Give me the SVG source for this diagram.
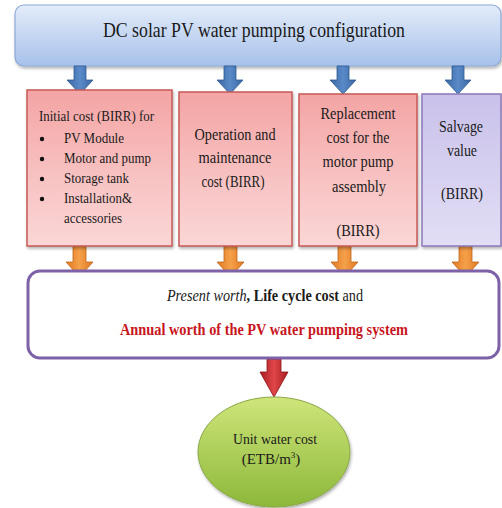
<svg xmlns="http://www.w3.org/2000/svg" width="502" height="508" viewBox="0 0 502 508" font-family="'Liberation Serif', 'Times New Roman', serif">
<defs>
<linearGradient id="gBlue" x1="0" y1="0" x2="0" y2="1"><stop offset="0" stop-color="#e3ecfa"/><stop offset="1" stop-color="#a7c1ea"/></linearGradient>
<linearGradient id="gPink" x1="0" y1="0" x2="0" y2="1"><stop offset="0" stop-color="#f4a4a4"/><stop offset="0.6" stop-color="#f8c4c4"/><stop offset="1" stop-color="#fbd6d6"/></linearGradient>
<linearGradient id="gPurple" x1="0" y1="0" x2="0" y2="1"><stop offset="0" stop-color="#c9c1ea"/><stop offset="1" stop-color="#e2def5"/></linearGradient>
<linearGradient id="gGreen" x1="0" y1="0" x2="0" y2="1"><stop offset="0" stop-color="#cfe57a"/><stop offset="1" stop-color="#8cb83a"/></linearGradient>
<linearGradient id="gOrange" x1="0" y1="0" x2="1" y2="0"><stop offset="0" stop-color="#e07a22"/><stop offset="0.5" stop-color="#f5a04a"/><stop offset="1" stop-color="#e07a22"/></linearGradient>
<linearGradient id="gRed" x1="0" y1="0" x2="1" y2="0"><stop offset="0" stop-color="#a81c20"/><stop offset="0.5" stop-color="#e0464a"/><stop offset="1" stop-color="#a81c20"/></linearGradient>
<linearGradient id="gBlueArr" x1="0" y1="0" x2="1" y2="0"><stop offset="0" stop-color="#3a67a3"/><stop offset="0.5" stop-color="#5a8ac8"/><stop offset="1" stop-color="#3a67a3"/></linearGradient>
<filter id="sh" x="-5%" y="-5%" width="110%" height="115%"><feDropShadow dx="1" dy="2" stdDeviation="1.5" flood-color="#000" flood-opacity="0.3"/></filter>
</defs>
<style>
text{font-family:'Liberation Serif','Times New Roman',serif;fill:#1a1a1a}
.c{text-anchor:middle}
.bx{font-size:16px}
.b1{font-size:14.5px}
.pink{fill:url(#gPink);stroke:#c55a57;stroke-width:1.5}
.ab{fill:url(#gBlueArr);stroke:#2f5a92;stroke-width:0.8}
.ao{fill:url(#gOrange);stroke:#c0641a;stroke-width:0.8}
</style>

<g id="top">
<rect x="15" y="5" width="486" height="61" rx="9" fill="url(#gBlue)" stroke="#8ea9d6" stroke-width="1.2" filter="url(#sh)"/>
<text x="254" y="37" class="c" font-size="21" textLength="302" lengthAdjust="spacingAndGlyphs">DC solar PV water pumping configuration</text>
</g>

<g id="connectors">
<path class="ab" d="M74,66 h12 v14 h7 l-13,14 l-13,-14 h7 z"/>
<path class="ab" d="M224,66 h12 v14 h7 l-13,14 l-13,-14 h7 z"/>
<path class="ab" d="M337,66 h12 v14 h7 l-13,14 l-13,-14 h7 z"/>
<path class="ab" d="M452,66 h12 v14 h7 l-13,14 l-13,-14 h7 z"/>
<path class="ao" d="M73,246 h13 v16 h7 l-13.5,15 l-13.5,-15 h7 z"/>
<path class="ao" d="M224,246 h13 v16 h7 l-13.5,15 l-13.5,-15 h7 z"/>
<path class="ao" d="M338,246 h13 v16 h7 l-13.5,15 l-13.5,-15 h7 z"/>
<path class="ao" d="M459,246 h13 v16 h7 l-13.5,15 l-13.5,-15 h7 z"/>
<path d="M267,359 h14 v13 h7 l-14,25 l-14,-25 h7 z" fill="url(#gRed)" stroke="#8c1418" stroke-width="0.8"/>
</g>

<g id="box1">
<rect x="27" y="90" width="145" height="156" class="pink" filter="url(#sh)"/>
<text x="39" y="121" class="b1" textLength="115" lengthAdjust="spacingAndGlyphs">Initial cost (BIRR) for</text>
<circle cx="42" cy="139" r="2.2" fill="#111"/><text x="64" y="143" class="b1" textLength="60" lengthAdjust="spacingAndGlyphs">PV Module</text>
<circle cx="42" cy="159" r="2.2" fill="#111"/><text x="64" y="163" class="b1" textLength="87" lengthAdjust="spacingAndGlyphs">Motor and pump</text>
<circle cx="42" cy="179" r="2.2" fill="#111"/><text x="64" y="183" class="b1" textLength="65" lengthAdjust="spacingAndGlyphs">Storage tank</text>
<circle cx="42" cy="199" r="2.2" fill="#111"/><text x="64" y="203" class="b1" textLength="68" lengthAdjust="spacingAndGlyphs">Installation&amp;</text>
<text x="64" y="223" class="b1" textLength="58" lengthAdjust="spacingAndGlyphs">accessories</text>
</g>

<g id="box2">
<rect x="179" y="92" width="113" height="154" class="pink" filter="url(#sh)"/>
<text x="235" y="140" class="c bx" textLength="81" lengthAdjust="spacingAndGlyphs">Operation and</text>
<text x="235" y="163" class="c bx" textLength="73" lengthAdjust="spacingAndGlyphs">maintenance</text>
<text x="233" y="187" class="c bx" textLength="63" lengthAdjust="spacingAndGlyphs">cost (BIRR)</text>
</g>

<g id="box3">
<rect x="299" y="94" width="118" height="152" class="pink" filter="url(#sh)"/>
<text x="358" y="119" class="c bx" textLength="75" lengthAdjust="spacingAndGlyphs">Replacement</text>
<text x="358" y="143" class="c bx" textLength="63" lengthAdjust="spacingAndGlyphs">cost for the</text>
<text x="358" y="167" class="c bx" textLength="71" lengthAdjust="spacingAndGlyphs">motor pump</text>
<text x="359" y="192" class="c bx" textLength="54" lengthAdjust="spacingAndGlyphs">assembly</text>
<text x="358" y="236" class="c bx" textLength="43" lengthAdjust="spacingAndGlyphs">(BIRR)</text>
</g>

<g id="box4">
<rect x="422" y="94" width="79" height="152" fill="url(#gPurple)" stroke="#8a78b8" stroke-width="1.5" filter="url(#sh)"/>
<text x="461" y="132" class="c bx" textLength="44" lengthAdjust="spacingAndGlyphs">Salvage</text>
<text x="462" y="156" class="c bx" textLength="30" lengthAdjust="spacingAndGlyphs">value</text>
<text x="462" y="199" class="c bx" textLength="42" lengthAdjust="spacingAndGlyphs">(BIRR)</text>
</g>

<g id="summary">
<rect x="28" y="271" width="471" height="87" rx="12" fill="#fff" stroke="#7d62a8" stroke-width="3"/>
<text transform="translate(265,301) scale(0.89,1)" class="c" font-size="16"><tspan font-style="italic">Present worth</tspan><tspan font-weight="bold">, Life cycle cost</tspan> and</text>
<text x="264" y="335" class="c" font-size="16" font-weight="bold" style="fill:#c8161c" textLength="288" lengthAdjust="spacingAndGlyphs">Annual worth of the PV water pumping system</text>
</g>

<g id="unitcost">
<ellipse cx="274" cy="452" rx="76" ry="55" fill="url(#gGreen)" stroke="#8aa848" stroke-width="1" filter="url(#sh)"/>
<text x="275" y="444" class="c" font-size="15" textLength="84" lengthAdjust="spacingAndGlyphs">Unit water cost</text>
<text x="271" y="464" class="c" font-size="15">(ETB/m<tspan font-size="9" dy="-6">3</tspan><tspan dy="6">)</tspan></text>
</g>
</svg>
